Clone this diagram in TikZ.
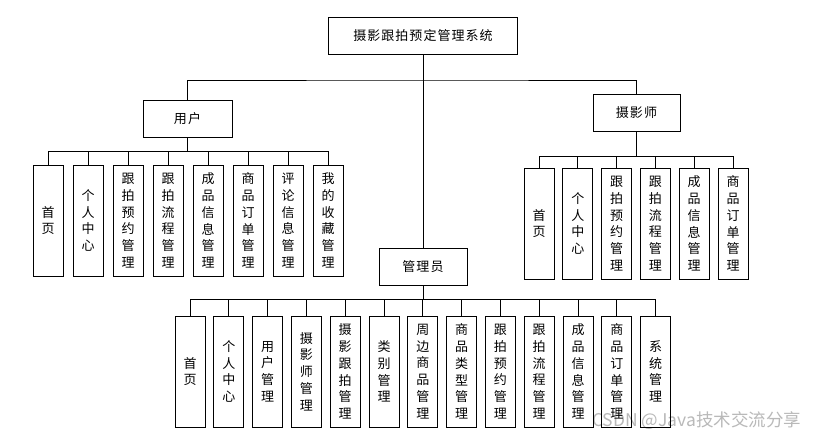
\documentclass[tikz,border=0pt]{standalone}
\usepackage{fontspec}
\newfontfamily\cjk{Noto Sans CJK SC}
\newfontfamily\cjkh{Noto Sans CJK SC}[LetterSpace=8]
\begin{document}
\begin{tikzpicture}[x=1pt,y=-1pt,
  hbox/.style={draw, line width=0.8pt, inner sep=0pt, minimum height=37pt, font=\cjkh\fontsize{13}{15}\selectfont},
  vbox/.style={draw, line width=0.8pt, inner sep=0pt, minimum width=30pt, minimum height=111pt, align=center, font=\cjk\fontsize{13}{16.7}\selectfont},
  conn/.style={line width=0.8pt}]
\useasboundingbox[fill=white] (0,0) rectangle (838,442);
% watermark (behind)
\node[text=gray!55, font=\cjk\fontsize{17.5}{17.5}\selectfont, inner sep=0pt, anchor=west] (wm) at (592,421) {CSDN @Java技术交流分享};
% main boxes
\node[hbox, minimum width=189pt] (root) at (423,35.5) {摄影跟拍预定管理系统};
\node[hbox, minimum width=89pt] (u) at (187.5,118.5) {用户};
\node[hbox, minimum width=87pt] (p) at (636.5,112.5) {摄影师};
\node[hbox, minimum width=88pt] (a) at (423,266.5) {管理员};
% children
\foreach \t [count=\i from 0] in {{首\\页},{个\\人\\中\\心},{跟\\拍\\预\\约\\管\\理},{跟\\拍\\流\\程\\管\\理},{成\\品\\信\\息\\管\\理},{商\\品\\订\\单\\管\\理},{评\\论\\信\\息\\管\\理},{我\\的\\收\\藏\\管\\理}}
  \node[vbox] (u\i) at ({48+40*\i},220.5) {\t};
\foreach \t [count=\i from 0] in {{首\\页},{个\\人\\中\\心},{跟\\拍\\预\\约\\管\\理},{跟\\拍\\流\\程\\管\\理},{成\\品\\信\\息\\管\\理},{商\\品\\订\\单\\管\\理}}
  \node[vbox] (p\i) at ({539+38.8*\i},223.5) {\t};
\foreach \t [count=\i from 0] in {{首\\页},{个\\人\\中\\心},{用\\户\\管\\理},{摄\\影\\师\\管\\理},{摄\\影\\跟\\拍\\管\\理},{类\\别\\管\\理},{周\\边\\商\\品\\管\\理},{商\\品\\类\\型\\管\\理},{跟\\拍\\预\\约\\管\\理},{跟\\拍\\流\\程\\管\\理},{成\\品\\信\\息\\管\\理},{商\\品\\订\\单\\管\\理},{系\\统\\管\\理}}
  \node[vbox] (a\i) at ({190+38.8*\i},371.5) {\t};
% connectors
\coordinate (rb) at (423,80);
\draw[conn] (root.south) -- (a.north);
\draw[conn] (u.north) |- (rb) -| (p.north);
\coordinate (ub) at (187.5,151);
\draw[conn] (u.south) -- (ub);
\foreach \i in {0,...,7} \draw[conn] (ub) -| (u\i.north);
\coordinate (pb) at (636.5,156);
\draw[conn] (p.south) -- (pb);
\foreach \i in {0,...,5} \draw[conn] (pb) -| (p\i.north);
\coordinate (ab) at (423,299);
\draw[conn] (a.south) -- (ab);
\foreach \i in {0,...,12} \draw[conn] (ab) -| (a\i.north);
\end{tikzpicture}
\end{document}
